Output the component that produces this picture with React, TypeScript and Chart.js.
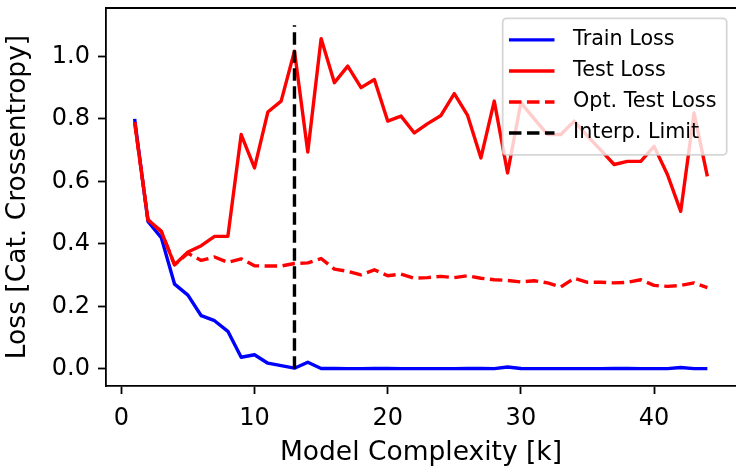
import { useEffect, useRef } from "react";
import { Chart, registerables } from "chart.js";

Chart.register(...registerables);

const FONT = "'DejaVu Sans', sans-serif";

// Model complexity k (x values)
const complexity = [
  1, 2, 3, 4, 5, 6, 7, 8, 9, 10, 11, 12, 13, 14, 15, 16, 17, 18, 19, 20, 21, 22,
  23, 24, 25, 26, 27, 28, 29, 30, 31, 32, 33, 34, 35, 36, 37, 38, 39, 40, 41, 42,
  43, 44,
];

const trainLoss = [
  0.8, 0.472, 0.42, 0.271, 0.236, 0.17, 0.154, 0.12, 0.037, 0.045, 0.018, 0.01,
  0.002, 0.021, 0.001, 0.001, 0.0005, 0.0005, 0.001, 0.001, 0.0005, 0.0005,
  0.0005, 0.0005, 0.0005, 0.001, 0.001, 0.0005, 0.006, 0.001, 0.0005, 0.0005,
  0.0005, 0.0005, 0.0005, 0.0005, 0.001, 0.001, 0.0005, 0.0005, 0.0005, 0.004,
  0.0005, 0.0005,
];

const testLoss = [
  0.79, 0.477, 0.44, 0.333, 0.374, 0.394, 0.424, 0.424, 0.75, 0.643, 0.822,
  0.857, 1.017, 0.694, 1.057, 0.916, 0.969, 0.9, 0.926, 0.793, 0.809, 0.755,
  0.785, 0.811, 0.881, 0.811, 0.675, 0.857, 0.627, 0.852, 0.8, 0.75, 0.75,
  0.793, 0.745, 0.7, 0.654, 0.664, 0.664, 0.712, 0.622, 0.504, 0.819, 0.616,
];

const optTestLoss = [
  0.79, 0.477, 0.44, 0.333, 0.37, 0.347, 0.358, 0.341, 0.352, 0.33, 0.329,
  0.329, 0.337, 0.339, 0.353, 0.319, 0.312, 0.301, 0.317, 0.298, 0.303, 0.29,
  0.292, 0.296, 0.292, 0.298, 0.29, 0.285, 0.283, 0.278, 0.282, 0.275, 0.262,
  0.29, 0.277, 0.277, 0.275, 0.277, 0.285, 0.267, 0.264, 0.267, 0.275, 0.26,
];

// Interpolation limit: vertical marker at k = 13
const interpLimitK = 13;
const interpLimitRange = [0, 1.1];

const xTicks = [0, 10, 20, 30, 40];
const yTicks = [0, 0.2, 0.4, 0.6, 0.8, 1.0];

const points = (ys: number[]) => complexity.map((k, i) => ({ x: k, y: ys[i] }));

// Spine on top plus a semi-transparent framed legend in the upper right
const frameAndLegend = {
  id: "frameAndLegend",
  afterDatasetsDraw(chart: any) {
    const { ctx, chartArea } = chart;
    ctx.save();
    ctx.strokeStyle = "#000";
    ctx.lineWidth = 1.8;
    ctx.beginPath();
    ctx.moveTo(chartArea.left - 0.9, chartArea.top);
    ctx.lineTo(chartArea.right, chartArea.top);
    ctx.stroke();

    const fs = 20.7;
    ctx.font = `${fs}px ${FONT}`;
    const datasets = chart.data.datasets;
    const borderPad = 0.4 * fs;
    const handleLen = 2.2 * fs;
    const handlePad = 0.8 * fs;
    const rowH = 1.5 * fs;
    let textW = 0;
    datasets.forEach((d: any) => {
      textW = Math.max(textW, ctx.measureText(d.label).width);
    });
    const w = borderPad * 2 + handleLen + handlePad + textW + 2;
    const h = borderPad * 2 + rowH * datasets.length - 0.2 * fs;
    const right = chartArea.right - 9.3;
    const left = right - w;
    const top = chartArea.top + 10.3;

    ctx.beginPath();
    ctx.roundRect(left, top, w, h, 4);
    ctx.fillStyle = "rgba(255,255,255,0.8)";
    ctx.fill();
    ctx.strokeStyle = "rgba(204,204,204,0.8)";
    ctx.lineWidth = 1.8;
    ctx.stroke();

    datasets.forEach((d: any, i: number) => {
      const cy = top + borderPad + fs * 0.45 + 4 + i * rowH;
      ctx.beginPath();
      ctx.setLineDash(d.borderDash || []);
      ctx.strokeStyle = d.borderColor;
      ctx.lineWidth = d.borderWidth;
      ctx.moveTo(left + borderPad - 2, cy);
      ctx.lineTo(left + borderPad - 2 + handleLen, cy);
      ctx.stroke();
      ctx.setLineDash([]);
      ctx.fillStyle = "#000";
      ctx.textBaseline = "middle";
      ctx.textAlign = "left";
      ctx.fillText(d.label, left + borderPad + handleLen + handlePad, cy);
    });
    ctx.restore();
  },
};

export default function App() {
  const canvasRef = useRef<HTMLCanvasElement | null>(null);

  useEffect(() => {
    const canvas = canvasRef.current;
    if (!canvas) return;
    const tickFont = { family: FONT, size: 24 };
    const titleFont = { family: FONT, size: 26.5, lineHeight: 1 };

    const chart = new Chart(canvas, {
      type: "line",
      data: {
        datasets: [
          {
            label: "Train Loss",
            data: points(trainLoss),
            borderColor: "#0000ff",
            borderWidth: 3.4,
            order: 4,
          },
          {
            label: "Test Loss",
            data: points(testLoss),
            borderColor: "#ff0000",
            borderWidth: 3.4,
            order: 3,
          },
          {
            label: "Opt. Test Loss",
            data: points(optTestLoss),
            borderColor: "#ff0000",
            borderWidth: 3.4,
            borderDash: [12.5, 5.5],
            order: 2,
          },
          {
            label: "Interp. Limit",
            data: interpLimitRange.map((y) => ({ x: interpLimitK, y })),
            borderColor: "#000000",
            borderWidth: 3.4,
            borderDash: [12.5, 5.5],
            order: 1,
          },
        ],
      },
      options: {
        animation: false,
        responsive: false,
        devicePixelRatio: 1,
        layout: { padding: { top: 8, right: 0, bottom: 0, left: 0 } },
        elements: {
          point: { radius: 0, hoverRadius: 0 },
          line: { tension: 0, borderJoinStyle: "round", borderCapStyle: "butt", fill: false },
        },
        plugins: { legend: { display: false }, tooltip: { enabled: false } },
        scales: {
          x: {
            type: "linear",
            min: -1.15,
            max: 46.15,
            afterBuildTicks: (s: any) => {
              s.ticks = xTicks.map((v) => ({ value: v }));
            },
            afterFit: (s: any) => {
              s.height = 82;
              s.paddingLeft = 0;
              s.paddingRight = 0;
            },
            ticks: {
              font: tickFont,
              color: "#000",
              padding: 10,
              maxRotation: 0,
              callback: (v: any) => String(v),
            },
            grid: {
              drawOnChartArea: false,
              drawTicks: true,
              tickLength: 8,
              tickWidth: 1.8,
              tickColor: "#000",
            },
            border: { display: true, color: "#000", width: 1.8 },
            title: {
              display: true,
              text: "Model Complexity [k]",
              font: titleFont,
              color: "#000",
              padding: { top: 0, bottom: 1.5 },
            },
          },
          y: {
            type: "linear",
            min: -0.055,
            max: 1.155,
            afterBuildTicks: (s: any) => {
              s.ticks = yTicks.map((v) => ({ value: v }));
            },
            afterFit: (s: any) => {
              s.width = 106;
              s.paddingTop = 0;
              s.paddingBottom = 0;
            },
            ticks: {
              font: tickFont,
              color: "#000",
              padding: 8,
              callback: (v: any) => Number(v).toFixed(1),
            },
            grid: {
              drawOnChartArea: false,
              drawTicks: true,
              tickLength: 8,
              tickWidth: 1.8,
              tickColor: "#000",
            },
            border: { display: true, color: "#000", width: 1.8 },
            title: {
              display: true,
              text: "Loss [Cat. Crossentropy]",
              font: titleFont,
              color: "#000",
              padding: { top: 5, bottom: 0 },
            },
          },
        },
      },
      plugins: [frameAndLegend],
    });
    return () => chart.destroy();
  }, []);

  return (
    <div style={{ position: "fixed", left: 0, top: 0, width: 736, height: 468, background: "#fff" }}>
      <canvas ref={canvasRef} width={736} height={468} />
    </div>
  );
}
